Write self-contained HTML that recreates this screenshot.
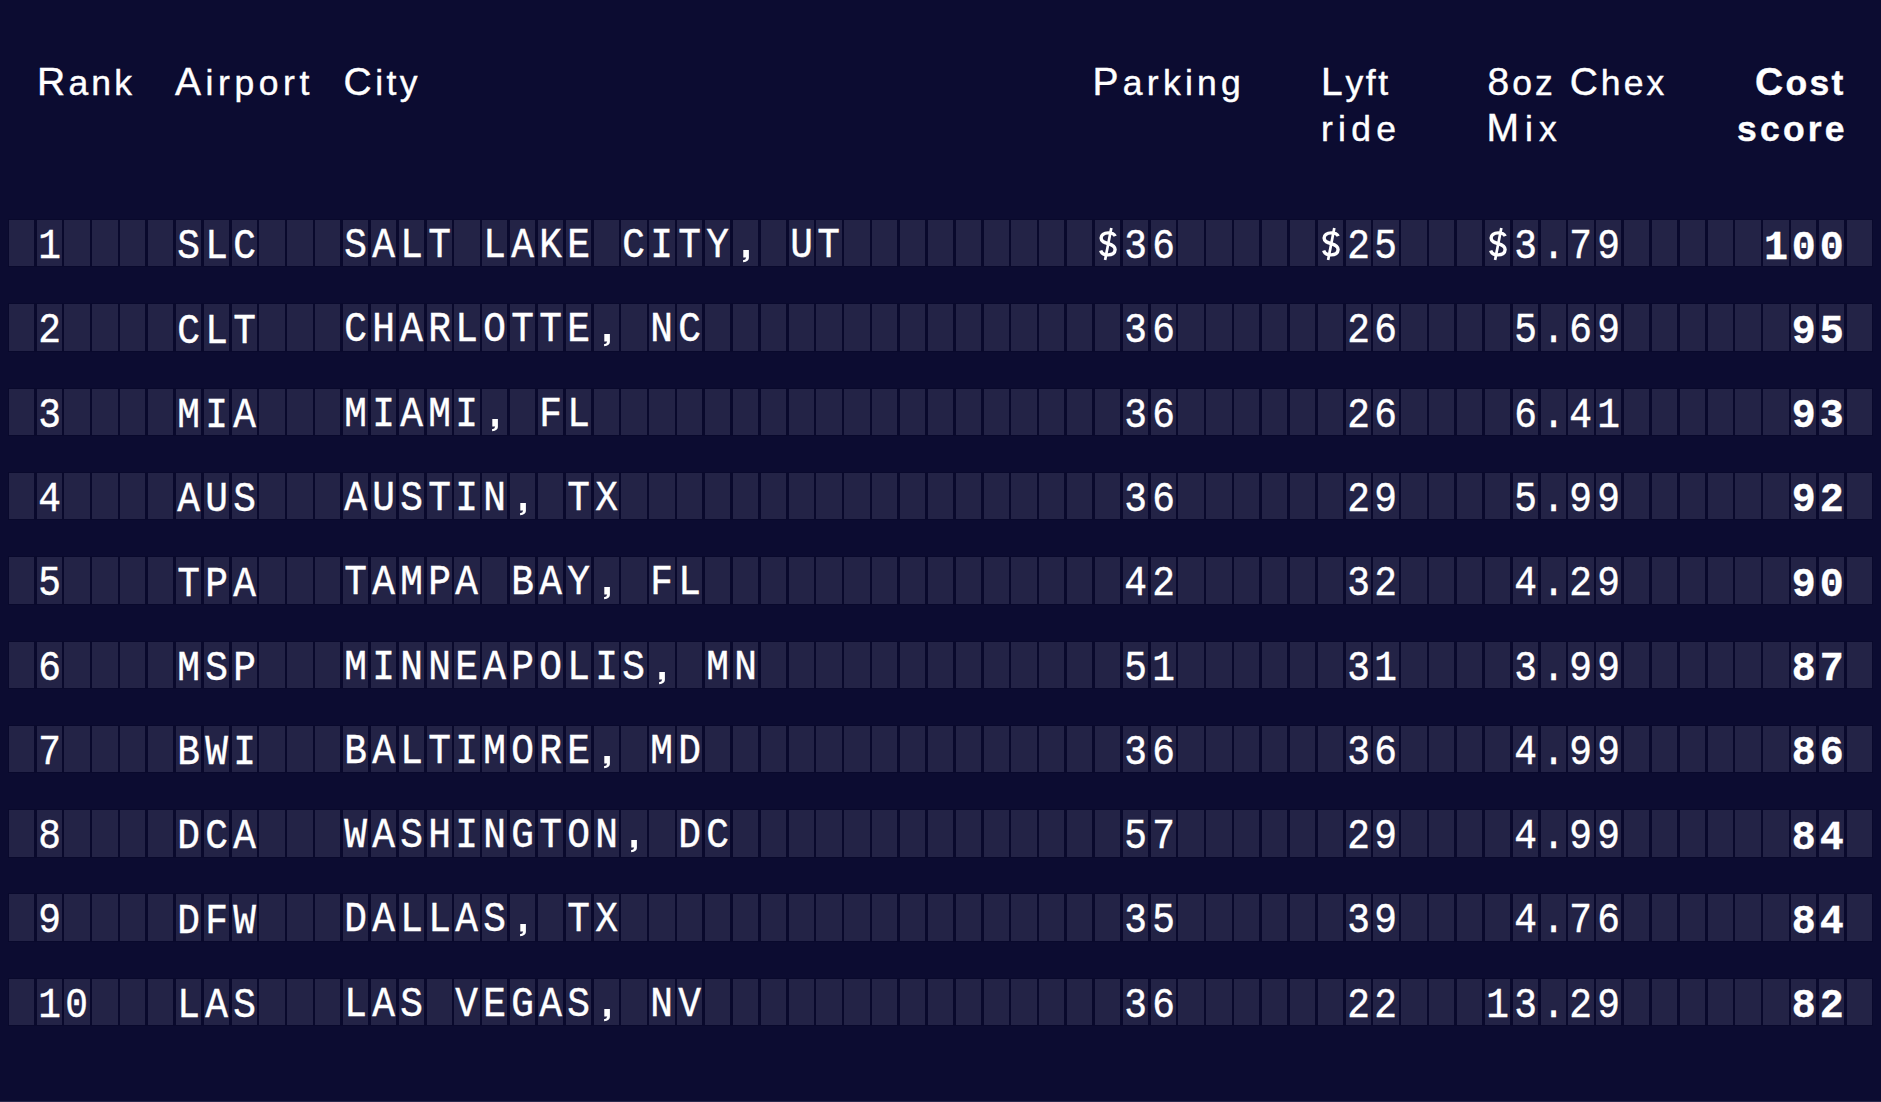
<!DOCTYPE html>
<html><head><meta charset="utf-8"><style>
html,body{margin:0;padding:0;}
body{width:1881px;height:1102px;background:#0c0c31;position:relative;overflow:hidden;}
.h{position:absolute;font-family:"Liberation Sans",sans-serif;color:#fff;-webkit-text-stroke:0.4px #fff;font-size:39px;line-height:47px;white-space:nowrap;}
.b{font-weight:bold;}
.lc{font-size:35.5px;}
.r{position:absolute;left:0;width:1881px;height:46.40px;}
.g{position:absolute;top:-1px;height:calc(100% + 2px);left:7.75px;width:1865.2px;background:#09092c;}
.t{position:absolute;top:0;width:25.30px;height:100%;background:#232346;}
.c{position:absolute;top:3px;transform:scaleX(0.9);-webkit-text-stroke:0.4px #fff;width:25.30px;height:100%;text-align:center;font-family:"Liberation Mono",monospace;font-size:42px;color:#fff;line-height:46.40px;}
.c.k{font-weight:bold;top:5.5px;font-size:40px;transform:none;-webkit-text-stroke:0.3px #fff;}
.c.d{top:4px;}
.cm{position:absolute;top:0;width:25.30px;height:100%;}
</style></head><body>

<div class="h" style="left:37.00px;top:58px;letter-spacing:3.20px;">R<span class="lc">ank</span></div>
<div class="h" style="left:175.00px;top:58px;letter-spacing:4.57px;">A<span class="lc">irport</span></div>
<div class="h" style="left:343.50px;top:58px;letter-spacing:3.47px;">C<span class="lc">ity</span></div>
<div class="h" style="left:1092.50px;top:58px;letter-spacing:4.27px;">P<span class="lc">arking</span></div>
<div class="h" style="left:1321.00px;top:58px;letter-spacing:2.67px;">L<span class="lc">yft</span></div>
<div class="h" style="left:1321.00px;top:104px;letter-spacing:5.27px;"><span class="lc">ride</span></div>
<div class="h" style="left:1487.50px;top:58px;letter-spacing:3.03px;">8<span class="lc">oz</span> C<span class="lc">hex</span></div>
<div class="h" style="left:1486.50px;top:104px;letter-spacing:6.10px;">M<span class="lc">ix</span></div>
<div class="h b" style="left:1755.00px;top:58px;letter-spacing:2.27px;">C<span class="lc">ost</span></div>
<div class="h b" style="left:1737.00px;top:104px;letter-spacing:3.20px;"><span class="lc">score</span></div>
<div class="r" style="top:220.10px">
<div class="g"></div>
<div class="t" style="left:8.75px"></div>
<div class="t" style="left:36.60px"></div>
<div class="t" style="left:64.45px"></div>
<div class="t" style="left:92.30px"></div>
<div class="t" style="left:120.15px"></div>
<div class="t" style="left:148.00px"></div>
<div class="t" style="left:175.85px"></div>
<div class="t" style="left:203.70px"></div>
<div class="t" style="left:231.55px"></div>
<div class="t" style="left:259.40px"></div>
<div class="t" style="left:287.25px"></div>
<div class="t" style="left:315.10px"></div>
<div class="t" style="left:342.95px"></div>
<div class="t" style="left:370.80px"></div>
<div class="t" style="left:398.65px"></div>
<div class="t" style="left:426.50px"></div>
<div class="t" style="left:454.35px"></div>
<div class="t" style="left:482.20px"></div>
<div class="t" style="left:510.05px"></div>
<div class="t" style="left:537.90px"></div>
<div class="t" style="left:565.75px"></div>
<div class="t" style="left:593.60px"></div>
<div class="t" style="left:621.45px"></div>
<div class="t" style="left:649.30px"></div>
<div class="t" style="left:677.15px"></div>
<div class="t" style="left:705.00px"></div>
<div class="t" style="left:732.85px"></div>
<div class="t" style="left:760.70px"></div>
<div class="t" style="left:788.55px"></div>
<div class="t" style="left:816.40px"></div>
<div class="t" style="left:844.25px"></div>
<div class="t" style="left:872.10px"></div>
<div class="t" style="left:899.95px"></div>
<div class="t" style="left:927.80px"></div>
<div class="t" style="left:955.65px"></div>
<div class="t" style="left:983.50px"></div>
<div class="t" style="left:1011.35px"></div>
<div class="t" style="left:1039.20px"></div>
<div class="t" style="left:1067.05px"></div>
<div class="t" style="left:1094.90px"></div>
<div class="t" style="left:1122.75px"></div>
<div class="t" style="left:1150.60px"></div>
<div class="t" style="left:1178.45px"></div>
<div class="t" style="left:1206.30px"></div>
<div class="t" style="left:1234.15px"></div>
<div class="t" style="left:1262.00px"></div>
<div class="t" style="left:1289.85px"></div>
<div class="t" style="left:1317.70px"></div>
<div class="t" style="left:1345.55px"></div>
<div class="t" style="left:1373.40px"></div>
<div class="t" style="left:1401.25px"></div>
<div class="t" style="left:1429.10px"></div>
<div class="t" style="left:1456.95px"></div>
<div class="t" style="left:1484.80px"></div>
<div class="t" style="left:1512.65px"></div>
<div class="t" style="left:1540.50px"></div>
<div class="t" style="left:1568.35px"></div>
<div class="t" style="left:1596.20px"></div>
<div class="t" style="left:1624.05px"></div>
<div class="t" style="left:1651.90px"></div>
<div class="t" style="left:1679.75px"></div>
<div class="t" style="left:1707.60px"></div>
<div class="t" style="left:1735.45px"></div>
<div class="t" style="left:1763.30px"></div>
<div class="t" style="left:1791.15px"></div>
<div class="t" style="left:1819.00px"></div>
<div class="t" style="left:1846.85px"></div>
<div class="c d" style="left:36.60px;">1</div>
<div class="c" style="left:175.85px;top:4.3px;">S</div>
<div class="c" style="left:203.70px;top:4.3px;">L</div>
<div class="c" style="left:231.55px;top:4.3px;">C</div>
<div class="c" style="left:342.95px;">S</div>
<div class="c" style="left:370.80px;">A</div>
<div class="c" style="left:398.65px;">L</div>
<div class="c" style="left:426.50px;">T</div>
<div class="c" style="left:482.20px;">L</div>
<div class="c" style="left:510.05px;">A</div>
<div class="c" style="left:537.90px;">K</div>
<div class="c" style="left:565.75px;">E</div>
<div class="c" style="left:621.45px;">C</div>
<div class="c" style="left:649.30px;">I</div>
<div class="c" style="left:677.15px;">T</div>
<div class="c" style="left:705.00px;">Y</div>
<svg class="cm" style="left:732.85px" viewBox="0 0 25.30 46.40"><path d="M10.3,30.1H15.9V38Q15.9,41.6 10.2,42.2L10,40.3Q12.9,39.8 13.2,37.4H10.3Z" fill="#fff"/></svg>
<div class="c" style="left:788.55px;">U</div>
<div class="c" style="left:816.40px;">T</div>
<svg class="cm" style="left:1094.90px" viewBox="0 0 25.30 46.40"><path d="M20.2,16.2C19.2,13.9 16.6,12.9 13.1,12.9C8.9,12.9 6.1,14.9 6.1,18C6.1,21.6 9.5,22.6 13.1,23.6C17,24.7 20.1,25.9 20.1,29.6C20.1,33 17.1,34.9 13.1,34.9C9.2,34.9 6.6,33.4 5.7,30.4" fill="none" stroke="#fff" stroke-width="3.4"/><path d="M16.3,8.1L10.1,40" stroke="#fff" stroke-width="2.7"/></svg>
<div class="c d" style="left:1122.75px;">3</div>
<div class="c d" style="left:1150.60px;">6</div>
<svg class="cm" style="left:1317.70px" viewBox="0 0 25.30 46.40"><path d="M20.2,16.2C19.2,13.9 16.6,12.9 13.1,12.9C8.9,12.9 6.1,14.9 6.1,18C6.1,21.6 9.5,22.6 13.1,23.6C17,24.7 20.1,25.9 20.1,29.6C20.1,33 17.1,34.9 13.1,34.9C9.2,34.9 6.6,33.4 5.7,30.4" fill="none" stroke="#fff" stroke-width="3.4"/><path d="M16.3,8.1L10.1,40" stroke="#fff" stroke-width="2.7"/></svg>
<div class="c d" style="left:1345.55px;">2</div>
<div class="c d" style="left:1373.40px;">5</div>
<svg class="cm" style="left:1484.80px" viewBox="0 0 25.30 46.40"><path d="M20.2,16.2C19.2,13.9 16.6,12.9 13.1,12.9C8.9,12.9 6.1,14.9 6.1,18C6.1,21.6 9.5,22.6 13.1,23.6C17,24.7 20.1,25.9 20.1,29.6C20.1,33 17.1,34.9 13.1,34.9C9.2,34.9 6.6,33.4 5.7,30.4" fill="none" stroke="#fff" stroke-width="3.4"/><path d="M16.3,8.1L10.1,40" stroke="#fff" stroke-width="2.7"/></svg>
<div class="c d" style="left:1512.65px;">3</div>
<div class="c d" style="left:1540.50px;">.</div>
<div class="c d" style="left:1568.35px;">7</div>
<div class="c d" style="left:1596.20px;">9</div>
<div class="c k" style="left:1763.30px;">1</div>
<div class="c k" style="left:1791.15px;">0</div>
<div class="c k" style="left:1819.00px;">0</div>
</div>
<div class="r" style="top:304.39px">
<div class="g"></div>
<div class="t" style="left:8.75px"></div>
<div class="t" style="left:36.60px"></div>
<div class="t" style="left:64.45px"></div>
<div class="t" style="left:92.30px"></div>
<div class="t" style="left:120.15px"></div>
<div class="t" style="left:148.00px"></div>
<div class="t" style="left:175.85px"></div>
<div class="t" style="left:203.70px"></div>
<div class="t" style="left:231.55px"></div>
<div class="t" style="left:259.40px"></div>
<div class="t" style="left:287.25px"></div>
<div class="t" style="left:315.10px"></div>
<div class="t" style="left:342.95px"></div>
<div class="t" style="left:370.80px"></div>
<div class="t" style="left:398.65px"></div>
<div class="t" style="left:426.50px"></div>
<div class="t" style="left:454.35px"></div>
<div class="t" style="left:482.20px"></div>
<div class="t" style="left:510.05px"></div>
<div class="t" style="left:537.90px"></div>
<div class="t" style="left:565.75px"></div>
<div class="t" style="left:593.60px"></div>
<div class="t" style="left:621.45px"></div>
<div class="t" style="left:649.30px"></div>
<div class="t" style="left:677.15px"></div>
<div class="t" style="left:705.00px"></div>
<div class="t" style="left:732.85px"></div>
<div class="t" style="left:760.70px"></div>
<div class="t" style="left:788.55px"></div>
<div class="t" style="left:816.40px"></div>
<div class="t" style="left:844.25px"></div>
<div class="t" style="left:872.10px"></div>
<div class="t" style="left:899.95px"></div>
<div class="t" style="left:927.80px"></div>
<div class="t" style="left:955.65px"></div>
<div class="t" style="left:983.50px"></div>
<div class="t" style="left:1011.35px"></div>
<div class="t" style="left:1039.20px"></div>
<div class="t" style="left:1067.05px"></div>
<div class="t" style="left:1094.90px"></div>
<div class="t" style="left:1122.75px"></div>
<div class="t" style="left:1150.60px"></div>
<div class="t" style="left:1178.45px"></div>
<div class="t" style="left:1206.30px"></div>
<div class="t" style="left:1234.15px"></div>
<div class="t" style="left:1262.00px"></div>
<div class="t" style="left:1289.85px"></div>
<div class="t" style="left:1317.70px"></div>
<div class="t" style="left:1345.55px"></div>
<div class="t" style="left:1373.40px"></div>
<div class="t" style="left:1401.25px"></div>
<div class="t" style="left:1429.10px"></div>
<div class="t" style="left:1456.95px"></div>
<div class="t" style="left:1484.80px"></div>
<div class="t" style="left:1512.65px"></div>
<div class="t" style="left:1540.50px"></div>
<div class="t" style="left:1568.35px"></div>
<div class="t" style="left:1596.20px"></div>
<div class="t" style="left:1624.05px"></div>
<div class="t" style="left:1651.90px"></div>
<div class="t" style="left:1679.75px"></div>
<div class="t" style="left:1707.60px"></div>
<div class="t" style="left:1735.45px"></div>
<div class="t" style="left:1763.30px"></div>
<div class="t" style="left:1791.15px"></div>
<div class="t" style="left:1819.00px"></div>
<div class="t" style="left:1846.85px"></div>
<div class="c d" style="left:36.60px;">2</div>
<div class="c" style="left:175.85px;top:4.3px;">C</div>
<div class="c" style="left:203.70px;top:4.3px;">L</div>
<div class="c" style="left:231.55px;top:4.3px;">T</div>
<div class="c" style="left:342.95px;">C</div>
<div class="c" style="left:370.80px;">H</div>
<div class="c" style="left:398.65px;">A</div>
<div class="c" style="left:426.50px;">R</div>
<div class="c" style="left:454.35px;">L</div>
<div class="c" style="left:482.20px;">O</div>
<div class="c" style="left:510.05px;">T</div>
<div class="c" style="left:537.90px;">T</div>
<div class="c" style="left:565.75px;">E</div>
<svg class="cm" style="left:593.60px" viewBox="0 0 25.30 46.40"><path d="M10.3,30.1H15.9V38Q15.9,41.6 10.2,42.2L10,40.3Q12.9,39.8 13.2,37.4H10.3Z" fill="#fff"/></svg>
<div class="c" style="left:649.30px;">N</div>
<div class="c" style="left:677.15px;">C</div>
<div class="c d" style="left:1122.75px;">3</div>
<div class="c d" style="left:1150.60px;">6</div>
<div class="c d" style="left:1345.55px;">2</div>
<div class="c d" style="left:1373.40px;">6</div>
<div class="c d" style="left:1512.65px;">5</div>
<div class="c d" style="left:1540.50px;">.</div>
<div class="c d" style="left:1568.35px;">6</div>
<div class="c d" style="left:1596.20px;">9</div>
<div class="c k" style="left:1791.15px;">9</div>
<div class="c k" style="left:1819.00px;">5</div>
</div>
<div class="r" style="top:388.68px">
<div class="g"></div>
<div class="t" style="left:8.75px"></div>
<div class="t" style="left:36.60px"></div>
<div class="t" style="left:64.45px"></div>
<div class="t" style="left:92.30px"></div>
<div class="t" style="left:120.15px"></div>
<div class="t" style="left:148.00px"></div>
<div class="t" style="left:175.85px"></div>
<div class="t" style="left:203.70px"></div>
<div class="t" style="left:231.55px"></div>
<div class="t" style="left:259.40px"></div>
<div class="t" style="left:287.25px"></div>
<div class="t" style="left:315.10px"></div>
<div class="t" style="left:342.95px"></div>
<div class="t" style="left:370.80px"></div>
<div class="t" style="left:398.65px"></div>
<div class="t" style="left:426.50px"></div>
<div class="t" style="left:454.35px"></div>
<div class="t" style="left:482.20px"></div>
<div class="t" style="left:510.05px"></div>
<div class="t" style="left:537.90px"></div>
<div class="t" style="left:565.75px"></div>
<div class="t" style="left:593.60px"></div>
<div class="t" style="left:621.45px"></div>
<div class="t" style="left:649.30px"></div>
<div class="t" style="left:677.15px"></div>
<div class="t" style="left:705.00px"></div>
<div class="t" style="left:732.85px"></div>
<div class="t" style="left:760.70px"></div>
<div class="t" style="left:788.55px"></div>
<div class="t" style="left:816.40px"></div>
<div class="t" style="left:844.25px"></div>
<div class="t" style="left:872.10px"></div>
<div class="t" style="left:899.95px"></div>
<div class="t" style="left:927.80px"></div>
<div class="t" style="left:955.65px"></div>
<div class="t" style="left:983.50px"></div>
<div class="t" style="left:1011.35px"></div>
<div class="t" style="left:1039.20px"></div>
<div class="t" style="left:1067.05px"></div>
<div class="t" style="left:1094.90px"></div>
<div class="t" style="left:1122.75px"></div>
<div class="t" style="left:1150.60px"></div>
<div class="t" style="left:1178.45px"></div>
<div class="t" style="left:1206.30px"></div>
<div class="t" style="left:1234.15px"></div>
<div class="t" style="left:1262.00px"></div>
<div class="t" style="left:1289.85px"></div>
<div class="t" style="left:1317.70px"></div>
<div class="t" style="left:1345.55px"></div>
<div class="t" style="left:1373.40px"></div>
<div class="t" style="left:1401.25px"></div>
<div class="t" style="left:1429.10px"></div>
<div class="t" style="left:1456.95px"></div>
<div class="t" style="left:1484.80px"></div>
<div class="t" style="left:1512.65px"></div>
<div class="t" style="left:1540.50px"></div>
<div class="t" style="left:1568.35px"></div>
<div class="t" style="left:1596.20px"></div>
<div class="t" style="left:1624.05px"></div>
<div class="t" style="left:1651.90px"></div>
<div class="t" style="left:1679.75px"></div>
<div class="t" style="left:1707.60px"></div>
<div class="t" style="left:1735.45px"></div>
<div class="t" style="left:1763.30px"></div>
<div class="t" style="left:1791.15px"></div>
<div class="t" style="left:1819.00px"></div>
<div class="t" style="left:1846.85px"></div>
<div class="c d" style="left:36.60px;">3</div>
<div class="c" style="left:175.85px;top:4.3px;">M</div>
<div class="c" style="left:203.70px;top:4.3px;">I</div>
<div class="c" style="left:231.55px;top:4.3px;">A</div>
<div class="c" style="left:342.95px;">M</div>
<div class="c" style="left:370.80px;">I</div>
<div class="c" style="left:398.65px;">A</div>
<div class="c" style="left:426.50px;">M</div>
<div class="c" style="left:454.35px;">I</div>
<svg class="cm" style="left:482.20px" viewBox="0 0 25.30 46.40"><path d="M10.3,30.1H15.9V38Q15.9,41.6 10.2,42.2L10,40.3Q12.9,39.8 13.2,37.4H10.3Z" fill="#fff"/></svg>
<div class="c" style="left:537.90px;">F</div>
<div class="c" style="left:565.75px;">L</div>
<div class="c d" style="left:1122.75px;">3</div>
<div class="c d" style="left:1150.60px;">6</div>
<div class="c d" style="left:1345.55px;">2</div>
<div class="c d" style="left:1373.40px;">6</div>
<div class="c d" style="left:1512.65px;">6</div>
<div class="c d" style="left:1540.50px;">.</div>
<div class="c d" style="left:1568.35px;">4</div>
<div class="c d" style="left:1596.20px;">1</div>
<div class="c k" style="left:1791.15px;">9</div>
<div class="c k" style="left:1819.00px;">3</div>
</div>
<div class="r" style="top:472.97px">
<div class="g"></div>
<div class="t" style="left:8.75px"></div>
<div class="t" style="left:36.60px"></div>
<div class="t" style="left:64.45px"></div>
<div class="t" style="left:92.30px"></div>
<div class="t" style="left:120.15px"></div>
<div class="t" style="left:148.00px"></div>
<div class="t" style="left:175.85px"></div>
<div class="t" style="left:203.70px"></div>
<div class="t" style="left:231.55px"></div>
<div class="t" style="left:259.40px"></div>
<div class="t" style="left:287.25px"></div>
<div class="t" style="left:315.10px"></div>
<div class="t" style="left:342.95px"></div>
<div class="t" style="left:370.80px"></div>
<div class="t" style="left:398.65px"></div>
<div class="t" style="left:426.50px"></div>
<div class="t" style="left:454.35px"></div>
<div class="t" style="left:482.20px"></div>
<div class="t" style="left:510.05px"></div>
<div class="t" style="left:537.90px"></div>
<div class="t" style="left:565.75px"></div>
<div class="t" style="left:593.60px"></div>
<div class="t" style="left:621.45px"></div>
<div class="t" style="left:649.30px"></div>
<div class="t" style="left:677.15px"></div>
<div class="t" style="left:705.00px"></div>
<div class="t" style="left:732.85px"></div>
<div class="t" style="left:760.70px"></div>
<div class="t" style="left:788.55px"></div>
<div class="t" style="left:816.40px"></div>
<div class="t" style="left:844.25px"></div>
<div class="t" style="left:872.10px"></div>
<div class="t" style="left:899.95px"></div>
<div class="t" style="left:927.80px"></div>
<div class="t" style="left:955.65px"></div>
<div class="t" style="left:983.50px"></div>
<div class="t" style="left:1011.35px"></div>
<div class="t" style="left:1039.20px"></div>
<div class="t" style="left:1067.05px"></div>
<div class="t" style="left:1094.90px"></div>
<div class="t" style="left:1122.75px"></div>
<div class="t" style="left:1150.60px"></div>
<div class="t" style="left:1178.45px"></div>
<div class="t" style="left:1206.30px"></div>
<div class="t" style="left:1234.15px"></div>
<div class="t" style="left:1262.00px"></div>
<div class="t" style="left:1289.85px"></div>
<div class="t" style="left:1317.70px"></div>
<div class="t" style="left:1345.55px"></div>
<div class="t" style="left:1373.40px"></div>
<div class="t" style="left:1401.25px"></div>
<div class="t" style="left:1429.10px"></div>
<div class="t" style="left:1456.95px"></div>
<div class="t" style="left:1484.80px"></div>
<div class="t" style="left:1512.65px"></div>
<div class="t" style="left:1540.50px"></div>
<div class="t" style="left:1568.35px"></div>
<div class="t" style="left:1596.20px"></div>
<div class="t" style="left:1624.05px"></div>
<div class="t" style="left:1651.90px"></div>
<div class="t" style="left:1679.75px"></div>
<div class="t" style="left:1707.60px"></div>
<div class="t" style="left:1735.45px"></div>
<div class="t" style="left:1763.30px"></div>
<div class="t" style="left:1791.15px"></div>
<div class="t" style="left:1819.00px"></div>
<div class="t" style="left:1846.85px"></div>
<div class="c d" style="left:36.60px;">4</div>
<div class="c" style="left:175.85px;top:4.3px;">A</div>
<div class="c" style="left:203.70px;top:4.3px;">U</div>
<div class="c" style="left:231.55px;top:4.3px;">S</div>
<div class="c" style="left:342.95px;">A</div>
<div class="c" style="left:370.80px;">U</div>
<div class="c" style="left:398.65px;">S</div>
<div class="c" style="left:426.50px;">T</div>
<div class="c" style="left:454.35px;">I</div>
<div class="c" style="left:482.20px;">N</div>
<svg class="cm" style="left:510.05px" viewBox="0 0 25.30 46.40"><path d="M10.3,30.1H15.9V38Q15.9,41.6 10.2,42.2L10,40.3Q12.9,39.8 13.2,37.4H10.3Z" fill="#fff"/></svg>
<div class="c" style="left:565.75px;">T</div>
<div class="c" style="left:593.60px;">X</div>
<div class="c d" style="left:1122.75px;">3</div>
<div class="c d" style="left:1150.60px;">6</div>
<div class="c d" style="left:1345.55px;">2</div>
<div class="c d" style="left:1373.40px;">9</div>
<div class="c d" style="left:1512.65px;">5</div>
<div class="c d" style="left:1540.50px;">.</div>
<div class="c d" style="left:1568.35px;">9</div>
<div class="c d" style="left:1596.20px;">9</div>
<div class="c k" style="left:1791.15px;">9</div>
<div class="c k" style="left:1819.00px;">2</div>
</div>
<div class="r" style="top:557.26px">
<div class="g"></div>
<div class="t" style="left:8.75px"></div>
<div class="t" style="left:36.60px"></div>
<div class="t" style="left:64.45px"></div>
<div class="t" style="left:92.30px"></div>
<div class="t" style="left:120.15px"></div>
<div class="t" style="left:148.00px"></div>
<div class="t" style="left:175.85px"></div>
<div class="t" style="left:203.70px"></div>
<div class="t" style="left:231.55px"></div>
<div class="t" style="left:259.40px"></div>
<div class="t" style="left:287.25px"></div>
<div class="t" style="left:315.10px"></div>
<div class="t" style="left:342.95px"></div>
<div class="t" style="left:370.80px"></div>
<div class="t" style="left:398.65px"></div>
<div class="t" style="left:426.50px"></div>
<div class="t" style="left:454.35px"></div>
<div class="t" style="left:482.20px"></div>
<div class="t" style="left:510.05px"></div>
<div class="t" style="left:537.90px"></div>
<div class="t" style="left:565.75px"></div>
<div class="t" style="left:593.60px"></div>
<div class="t" style="left:621.45px"></div>
<div class="t" style="left:649.30px"></div>
<div class="t" style="left:677.15px"></div>
<div class="t" style="left:705.00px"></div>
<div class="t" style="left:732.85px"></div>
<div class="t" style="left:760.70px"></div>
<div class="t" style="left:788.55px"></div>
<div class="t" style="left:816.40px"></div>
<div class="t" style="left:844.25px"></div>
<div class="t" style="left:872.10px"></div>
<div class="t" style="left:899.95px"></div>
<div class="t" style="left:927.80px"></div>
<div class="t" style="left:955.65px"></div>
<div class="t" style="left:983.50px"></div>
<div class="t" style="left:1011.35px"></div>
<div class="t" style="left:1039.20px"></div>
<div class="t" style="left:1067.05px"></div>
<div class="t" style="left:1094.90px"></div>
<div class="t" style="left:1122.75px"></div>
<div class="t" style="left:1150.60px"></div>
<div class="t" style="left:1178.45px"></div>
<div class="t" style="left:1206.30px"></div>
<div class="t" style="left:1234.15px"></div>
<div class="t" style="left:1262.00px"></div>
<div class="t" style="left:1289.85px"></div>
<div class="t" style="left:1317.70px"></div>
<div class="t" style="left:1345.55px"></div>
<div class="t" style="left:1373.40px"></div>
<div class="t" style="left:1401.25px"></div>
<div class="t" style="left:1429.10px"></div>
<div class="t" style="left:1456.95px"></div>
<div class="t" style="left:1484.80px"></div>
<div class="t" style="left:1512.65px"></div>
<div class="t" style="left:1540.50px"></div>
<div class="t" style="left:1568.35px"></div>
<div class="t" style="left:1596.20px"></div>
<div class="t" style="left:1624.05px"></div>
<div class="t" style="left:1651.90px"></div>
<div class="t" style="left:1679.75px"></div>
<div class="t" style="left:1707.60px"></div>
<div class="t" style="left:1735.45px"></div>
<div class="t" style="left:1763.30px"></div>
<div class="t" style="left:1791.15px"></div>
<div class="t" style="left:1819.00px"></div>
<div class="t" style="left:1846.85px"></div>
<div class="c d" style="left:36.60px;">5</div>
<div class="c" style="left:175.85px;top:4.3px;">T</div>
<div class="c" style="left:203.70px;top:4.3px;">P</div>
<div class="c" style="left:231.55px;top:4.3px;">A</div>
<div class="c" style="left:342.95px;">T</div>
<div class="c" style="left:370.80px;">A</div>
<div class="c" style="left:398.65px;">M</div>
<div class="c" style="left:426.50px;">P</div>
<div class="c" style="left:454.35px;">A</div>
<div class="c" style="left:510.05px;">B</div>
<div class="c" style="left:537.90px;">A</div>
<div class="c" style="left:565.75px;">Y</div>
<svg class="cm" style="left:593.60px" viewBox="0 0 25.30 46.40"><path d="M10.3,30.1H15.9V38Q15.9,41.6 10.2,42.2L10,40.3Q12.9,39.8 13.2,37.4H10.3Z" fill="#fff"/></svg>
<div class="c" style="left:649.30px;">F</div>
<div class="c" style="left:677.15px;">L</div>
<div class="c d" style="left:1122.75px;">4</div>
<div class="c d" style="left:1150.60px;">2</div>
<div class="c d" style="left:1345.55px;">3</div>
<div class="c d" style="left:1373.40px;">2</div>
<div class="c d" style="left:1512.65px;">4</div>
<div class="c d" style="left:1540.50px;">.</div>
<div class="c d" style="left:1568.35px;">2</div>
<div class="c d" style="left:1596.20px;">9</div>
<div class="c k" style="left:1791.15px;">9</div>
<div class="c k" style="left:1819.00px;">0</div>
</div>
<div class="r" style="top:641.55px">
<div class="g"></div>
<div class="t" style="left:8.75px"></div>
<div class="t" style="left:36.60px"></div>
<div class="t" style="left:64.45px"></div>
<div class="t" style="left:92.30px"></div>
<div class="t" style="left:120.15px"></div>
<div class="t" style="left:148.00px"></div>
<div class="t" style="left:175.85px"></div>
<div class="t" style="left:203.70px"></div>
<div class="t" style="left:231.55px"></div>
<div class="t" style="left:259.40px"></div>
<div class="t" style="left:287.25px"></div>
<div class="t" style="left:315.10px"></div>
<div class="t" style="left:342.95px"></div>
<div class="t" style="left:370.80px"></div>
<div class="t" style="left:398.65px"></div>
<div class="t" style="left:426.50px"></div>
<div class="t" style="left:454.35px"></div>
<div class="t" style="left:482.20px"></div>
<div class="t" style="left:510.05px"></div>
<div class="t" style="left:537.90px"></div>
<div class="t" style="left:565.75px"></div>
<div class="t" style="left:593.60px"></div>
<div class="t" style="left:621.45px"></div>
<div class="t" style="left:649.30px"></div>
<div class="t" style="left:677.15px"></div>
<div class="t" style="left:705.00px"></div>
<div class="t" style="left:732.85px"></div>
<div class="t" style="left:760.70px"></div>
<div class="t" style="left:788.55px"></div>
<div class="t" style="left:816.40px"></div>
<div class="t" style="left:844.25px"></div>
<div class="t" style="left:872.10px"></div>
<div class="t" style="left:899.95px"></div>
<div class="t" style="left:927.80px"></div>
<div class="t" style="left:955.65px"></div>
<div class="t" style="left:983.50px"></div>
<div class="t" style="left:1011.35px"></div>
<div class="t" style="left:1039.20px"></div>
<div class="t" style="left:1067.05px"></div>
<div class="t" style="left:1094.90px"></div>
<div class="t" style="left:1122.75px"></div>
<div class="t" style="left:1150.60px"></div>
<div class="t" style="left:1178.45px"></div>
<div class="t" style="left:1206.30px"></div>
<div class="t" style="left:1234.15px"></div>
<div class="t" style="left:1262.00px"></div>
<div class="t" style="left:1289.85px"></div>
<div class="t" style="left:1317.70px"></div>
<div class="t" style="left:1345.55px"></div>
<div class="t" style="left:1373.40px"></div>
<div class="t" style="left:1401.25px"></div>
<div class="t" style="left:1429.10px"></div>
<div class="t" style="left:1456.95px"></div>
<div class="t" style="left:1484.80px"></div>
<div class="t" style="left:1512.65px"></div>
<div class="t" style="left:1540.50px"></div>
<div class="t" style="left:1568.35px"></div>
<div class="t" style="left:1596.20px"></div>
<div class="t" style="left:1624.05px"></div>
<div class="t" style="left:1651.90px"></div>
<div class="t" style="left:1679.75px"></div>
<div class="t" style="left:1707.60px"></div>
<div class="t" style="left:1735.45px"></div>
<div class="t" style="left:1763.30px"></div>
<div class="t" style="left:1791.15px"></div>
<div class="t" style="left:1819.00px"></div>
<div class="t" style="left:1846.85px"></div>
<div class="c d" style="left:36.60px;">6</div>
<div class="c" style="left:175.85px;top:4.3px;">M</div>
<div class="c" style="left:203.70px;top:4.3px;">S</div>
<div class="c" style="left:231.55px;top:4.3px;">P</div>
<div class="c" style="left:342.95px;">M</div>
<div class="c" style="left:370.80px;">I</div>
<div class="c" style="left:398.65px;">N</div>
<div class="c" style="left:426.50px;">N</div>
<div class="c" style="left:454.35px;">E</div>
<div class="c" style="left:482.20px;">A</div>
<div class="c" style="left:510.05px;">P</div>
<div class="c" style="left:537.90px;">O</div>
<div class="c" style="left:565.75px;">L</div>
<div class="c" style="left:593.60px;">I</div>
<div class="c" style="left:621.45px;">S</div>
<svg class="cm" style="left:649.30px" viewBox="0 0 25.30 46.40"><path d="M10.3,30.1H15.9V38Q15.9,41.6 10.2,42.2L10,40.3Q12.9,39.8 13.2,37.4H10.3Z" fill="#fff"/></svg>
<div class="c" style="left:705.00px;">M</div>
<div class="c" style="left:732.85px;">N</div>
<div class="c d" style="left:1122.75px;">5</div>
<div class="c d" style="left:1150.60px;">1</div>
<div class="c d" style="left:1345.55px;">3</div>
<div class="c d" style="left:1373.40px;">1</div>
<div class="c d" style="left:1512.65px;">3</div>
<div class="c d" style="left:1540.50px;">.</div>
<div class="c d" style="left:1568.35px;">9</div>
<div class="c d" style="left:1596.20px;">9</div>
<div class="c k" style="left:1791.15px;">8</div>
<div class="c k" style="left:1819.00px;">7</div>
</div>
<div class="r" style="top:725.84px">
<div class="g"></div>
<div class="t" style="left:8.75px"></div>
<div class="t" style="left:36.60px"></div>
<div class="t" style="left:64.45px"></div>
<div class="t" style="left:92.30px"></div>
<div class="t" style="left:120.15px"></div>
<div class="t" style="left:148.00px"></div>
<div class="t" style="left:175.85px"></div>
<div class="t" style="left:203.70px"></div>
<div class="t" style="left:231.55px"></div>
<div class="t" style="left:259.40px"></div>
<div class="t" style="left:287.25px"></div>
<div class="t" style="left:315.10px"></div>
<div class="t" style="left:342.95px"></div>
<div class="t" style="left:370.80px"></div>
<div class="t" style="left:398.65px"></div>
<div class="t" style="left:426.50px"></div>
<div class="t" style="left:454.35px"></div>
<div class="t" style="left:482.20px"></div>
<div class="t" style="left:510.05px"></div>
<div class="t" style="left:537.90px"></div>
<div class="t" style="left:565.75px"></div>
<div class="t" style="left:593.60px"></div>
<div class="t" style="left:621.45px"></div>
<div class="t" style="left:649.30px"></div>
<div class="t" style="left:677.15px"></div>
<div class="t" style="left:705.00px"></div>
<div class="t" style="left:732.85px"></div>
<div class="t" style="left:760.70px"></div>
<div class="t" style="left:788.55px"></div>
<div class="t" style="left:816.40px"></div>
<div class="t" style="left:844.25px"></div>
<div class="t" style="left:872.10px"></div>
<div class="t" style="left:899.95px"></div>
<div class="t" style="left:927.80px"></div>
<div class="t" style="left:955.65px"></div>
<div class="t" style="left:983.50px"></div>
<div class="t" style="left:1011.35px"></div>
<div class="t" style="left:1039.20px"></div>
<div class="t" style="left:1067.05px"></div>
<div class="t" style="left:1094.90px"></div>
<div class="t" style="left:1122.75px"></div>
<div class="t" style="left:1150.60px"></div>
<div class="t" style="left:1178.45px"></div>
<div class="t" style="left:1206.30px"></div>
<div class="t" style="left:1234.15px"></div>
<div class="t" style="left:1262.00px"></div>
<div class="t" style="left:1289.85px"></div>
<div class="t" style="left:1317.70px"></div>
<div class="t" style="left:1345.55px"></div>
<div class="t" style="left:1373.40px"></div>
<div class="t" style="left:1401.25px"></div>
<div class="t" style="left:1429.10px"></div>
<div class="t" style="left:1456.95px"></div>
<div class="t" style="left:1484.80px"></div>
<div class="t" style="left:1512.65px"></div>
<div class="t" style="left:1540.50px"></div>
<div class="t" style="left:1568.35px"></div>
<div class="t" style="left:1596.20px"></div>
<div class="t" style="left:1624.05px"></div>
<div class="t" style="left:1651.90px"></div>
<div class="t" style="left:1679.75px"></div>
<div class="t" style="left:1707.60px"></div>
<div class="t" style="left:1735.45px"></div>
<div class="t" style="left:1763.30px"></div>
<div class="t" style="left:1791.15px"></div>
<div class="t" style="left:1819.00px"></div>
<div class="t" style="left:1846.85px"></div>
<div class="c d" style="left:36.60px;">7</div>
<div class="c" style="left:175.85px;top:4.3px;">B</div>
<div class="c" style="left:203.70px;top:4.3px;">W</div>
<div class="c" style="left:231.55px;top:4.3px;">I</div>
<div class="c" style="left:342.95px;">B</div>
<div class="c" style="left:370.80px;">A</div>
<div class="c" style="left:398.65px;">L</div>
<div class="c" style="left:426.50px;">T</div>
<div class="c" style="left:454.35px;">I</div>
<div class="c" style="left:482.20px;">M</div>
<div class="c" style="left:510.05px;">O</div>
<div class="c" style="left:537.90px;">R</div>
<div class="c" style="left:565.75px;">E</div>
<svg class="cm" style="left:593.60px" viewBox="0 0 25.30 46.40"><path d="M10.3,30.1H15.9V38Q15.9,41.6 10.2,42.2L10,40.3Q12.9,39.8 13.2,37.4H10.3Z" fill="#fff"/></svg>
<div class="c" style="left:649.30px;">M</div>
<div class="c" style="left:677.15px;">D</div>
<div class="c d" style="left:1122.75px;">3</div>
<div class="c d" style="left:1150.60px;">6</div>
<div class="c d" style="left:1345.55px;">3</div>
<div class="c d" style="left:1373.40px;">6</div>
<div class="c d" style="left:1512.65px;">4</div>
<div class="c d" style="left:1540.50px;">.</div>
<div class="c d" style="left:1568.35px;">9</div>
<div class="c d" style="left:1596.20px;">9</div>
<div class="c k" style="left:1791.15px;">8</div>
<div class="c k" style="left:1819.00px;">6</div>
</div>
<div class="r" style="top:810.13px">
<div class="g"></div>
<div class="t" style="left:8.75px"></div>
<div class="t" style="left:36.60px"></div>
<div class="t" style="left:64.45px"></div>
<div class="t" style="left:92.30px"></div>
<div class="t" style="left:120.15px"></div>
<div class="t" style="left:148.00px"></div>
<div class="t" style="left:175.85px"></div>
<div class="t" style="left:203.70px"></div>
<div class="t" style="left:231.55px"></div>
<div class="t" style="left:259.40px"></div>
<div class="t" style="left:287.25px"></div>
<div class="t" style="left:315.10px"></div>
<div class="t" style="left:342.95px"></div>
<div class="t" style="left:370.80px"></div>
<div class="t" style="left:398.65px"></div>
<div class="t" style="left:426.50px"></div>
<div class="t" style="left:454.35px"></div>
<div class="t" style="left:482.20px"></div>
<div class="t" style="left:510.05px"></div>
<div class="t" style="left:537.90px"></div>
<div class="t" style="left:565.75px"></div>
<div class="t" style="left:593.60px"></div>
<div class="t" style="left:621.45px"></div>
<div class="t" style="left:649.30px"></div>
<div class="t" style="left:677.15px"></div>
<div class="t" style="left:705.00px"></div>
<div class="t" style="left:732.85px"></div>
<div class="t" style="left:760.70px"></div>
<div class="t" style="left:788.55px"></div>
<div class="t" style="left:816.40px"></div>
<div class="t" style="left:844.25px"></div>
<div class="t" style="left:872.10px"></div>
<div class="t" style="left:899.95px"></div>
<div class="t" style="left:927.80px"></div>
<div class="t" style="left:955.65px"></div>
<div class="t" style="left:983.50px"></div>
<div class="t" style="left:1011.35px"></div>
<div class="t" style="left:1039.20px"></div>
<div class="t" style="left:1067.05px"></div>
<div class="t" style="left:1094.90px"></div>
<div class="t" style="left:1122.75px"></div>
<div class="t" style="left:1150.60px"></div>
<div class="t" style="left:1178.45px"></div>
<div class="t" style="left:1206.30px"></div>
<div class="t" style="left:1234.15px"></div>
<div class="t" style="left:1262.00px"></div>
<div class="t" style="left:1289.85px"></div>
<div class="t" style="left:1317.70px"></div>
<div class="t" style="left:1345.55px"></div>
<div class="t" style="left:1373.40px"></div>
<div class="t" style="left:1401.25px"></div>
<div class="t" style="left:1429.10px"></div>
<div class="t" style="left:1456.95px"></div>
<div class="t" style="left:1484.80px"></div>
<div class="t" style="left:1512.65px"></div>
<div class="t" style="left:1540.50px"></div>
<div class="t" style="left:1568.35px"></div>
<div class="t" style="left:1596.20px"></div>
<div class="t" style="left:1624.05px"></div>
<div class="t" style="left:1651.90px"></div>
<div class="t" style="left:1679.75px"></div>
<div class="t" style="left:1707.60px"></div>
<div class="t" style="left:1735.45px"></div>
<div class="t" style="left:1763.30px"></div>
<div class="t" style="left:1791.15px"></div>
<div class="t" style="left:1819.00px"></div>
<div class="t" style="left:1846.85px"></div>
<div class="c d" style="left:36.60px;">8</div>
<div class="c" style="left:175.85px;top:4.3px;">D</div>
<div class="c" style="left:203.70px;top:4.3px;">C</div>
<div class="c" style="left:231.55px;top:4.3px;">A</div>
<div class="c" style="left:342.95px;">W</div>
<div class="c" style="left:370.80px;">A</div>
<div class="c" style="left:398.65px;">S</div>
<div class="c" style="left:426.50px;">H</div>
<div class="c" style="left:454.35px;">I</div>
<div class="c" style="left:482.20px;">N</div>
<div class="c" style="left:510.05px;">G</div>
<div class="c" style="left:537.90px;">T</div>
<div class="c" style="left:565.75px;">O</div>
<div class="c" style="left:593.60px;">N</div>
<svg class="cm" style="left:621.45px" viewBox="0 0 25.30 46.40"><path d="M10.3,30.1H15.9V38Q15.9,41.6 10.2,42.2L10,40.3Q12.9,39.8 13.2,37.4H10.3Z" fill="#fff"/></svg>
<div class="c" style="left:677.15px;">D</div>
<div class="c" style="left:705.00px;">C</div>
<div class="c d" style="left:1122.75px;">5</div>
<div class="c d" style="left:1150.60px;">7</div>
<div class="c d" style="left:1345.55px;">2</div>
<div class="c d" style="left:1373.40px;">9</div>
<div class="c d" style="left:1512.65px;">4</div>
<div class="c d" style="left:1540.50px;">.</div>
<div class="c d" style="left:1568.35px;">9</div>
<div class="c d" style="left:1596.20px;">9</div>
<div class="c k" style="left:1791.15px;">8</div>
<div class="c k" style="left:1819.00px;">4</div>
</div>
<div class="r" style="top:894.42px">
<div class="g"></div>
<div class="t" style="left:8.75px"></div>
<div class="t" style="left:36.60px"></div>
<div class="t" style="left:64.45px"></div>
<div class="t" style="left:92.30px"></div>
<div class="t" style="left:120.15px"></div>
<div class="t" style="left:148.00px"></div>
<div class="t" style="left:175.85px"></div>
<div class="t" style="left:203.70px"></div>
<div class="t" style="left:231.55px"></div>
<div class="t" style="left:259.40px"></div>
<div class="t" style="left:287.25px"></div>
<div class="t" style="left:315.10px"></div>
<div class="t" style="left:342.95px"></div>
<div class="t" style="left:370.80px"></div>
<div class="t" style="left:398.65px"></div>
<div class="t" style="left:426.50px"></div>
<div class="t" style="left:454.35px"></div>
<div class="t" style="left:482.20px"></div>
<div class="t" style="left:510.05px"></div>
<div class="t" style="left:537.90px"></div>
<div class="t" style="left:565.75px"></div>
<div class="t" style="left:593.60px"></div>
<div class="t" style="left:621.45px"></div>
<div class="t" style="left:649.30px"></div>
<div class="t" style="left:677.15px"></div>
<div class="t" style="left:705.00px"></div>
<div class="t" style="left:732.85px"></div>
<div class="t" style="left:760.70px"></div>
<div class="t" style="left:788.55px"></div>
<div class="t" style="left:816.40px"></div>
<div class="t" style="left:844.25px"></div>
<div class="t" style="left:872.10px"></div>
<div class="t" style="left:899.95px"></div>
<div class="t" style="left:927.80px"></div>
<div class="t" style="left:955.65px"></div>
<div class="t" style="left:983.50px"></div>
<div class="t" style="left:1011.35px"></div>
<div class="t" style="left:1039.20px"></div>
<div class="t" style="left:1067.05px"></div>
<div class="t" style="left:1094.90px"></div>
<div class="t" style="left:1122.75px"></div>
<div class="t" style="left:1150.60px"></div>
<div class="t" style="left:1178.45px"></div>
<div class="t" style="left:1206.30px"></div>
<div class="t" style="left:1234.15px"></div>
<div class="t" style="left:1262.00px"></div>
<div class="t" style="left:1289.85px"></div>
<div class="t" style="left:1317.70px"></div>
<div class="t" style="left:1345.55px"></div>
<div class="t" style="left:1373.40px"></div>
<div class="t" style="left:1401.25px"></div>
<div class="t" style="left:1429.10px"></div>
<div class="t" style="left:1456.95px"></div>
<div class="t" style="left:1484.80px"></div>
<div class="t" style="left:1512.65px"></div>
<div class="t" style="left:1540.50px"></div>
<div class="t" style="left:1568.35px"></div>
<div class="t" style="left:1596.20px"></div>
<div class="t" style="left:1624.05px"></div>
<div class="t" style="left:1651.90px"></div>
<div class="t" style="left:1679.75px"></div>
<div class="t" style="left:1707.60px"></div>
<div class="t" style="left:1735.45px"></div>
<div class="t" style="left:1763.30px"></div>
<div class="t" style="left:1791.15px"></div>
<div class="t" style="left:1819.00px"></div>
<div class="t" style="left:1846.85px"></div>
<div class="c d" style="left:36.60px;">9</div>
<div class="c" style="left:175.85px;top:4.3px;">D</div>
<div class="c" style="left:203.70px;top:4.3px;">F</div>
<div class="c" style="left:231.55px;top:4.3px;">W</div>
<div class="c" style="left:342.95px;">D</div>
<div class="c" style="left:370.80px;">A</div>
<div class="c" style="left:398.65px;">L</div>
<div class="c" style="left:426.50px;">L</div>
<div class="c" style="left:454.35px;">A</div>
<div class="c" style="left:482.20px;">S</div>
<svg class="cm" style="left:510.05px" viewBox="0 0 25.30 46.40"><path d="M10.3,30.1H15.9V38Q15.9,41.6 10.2,42.2L10,40.3Q12.9,39.8 13.2,37.4H10.3Z" fill="#fff"/></svg>
<div class="c" style="left:565.75px;">T</div>
<div class="c" style="left:593.60px;">X</div>
<div class="c d" style="left:1122.75px;">3</div>
<div class="c d" style="left:1150.60px;">5</div>
<div class="c d" style="left:1345.55px;">3</div>
<div class="c d" style="left:1373.40px;">9</div>
<div class="c d" style="left:1512.65px;">4</div>
<div class="c d" style="left:1540.50px;">.</div>
<div class="c d" style="left:1568.35px;">7</div>
<div class="c d" style="left:1596.20px;">6</div>
<div class="c k" style="left:1791.15px;">8</div>
<div class="c k" style="left:1819.00px;">4</div>
</div>
<div class="r" style="top:978.71px">
<div class="g"></div>
<div class="t" style="left:8.75px"></div>
<div class="t" style="left:36.60px"></div>
<div class="t" style="left:64.45px"></div>
<div class="t" style="left:92.30px"></div>
<div class="t" style="left:120.15px"></div>
<div class="t" style="left:148.00px"></div>
<div class="t" style="left:175.85px"></div>
<div class="t" style="left:203.70px"></div>
<div class="t" style="left:231.55px"></div>
<div class="t" style="left:259.40px"></div>
<div class="t" style="left:287.25px"></div>
<div class="t" style="left:315.10px"></div>
<div class="t" style="left:342.95px"></div>
<div class="t" style="left:370.80px"></div>
<div class="t" style="left:398.65px"></div>
<div class="t" style="left:426.50px"></div>
<div class="t" style="left:454.35px"></div>
<div class="t" style="left:482.20px"></div>
<div class="t" style="left:510.05px"></div>
<div class="t" style="left:537.90px"></div>
<div class="t" style="left:565.75px"></div>
<div class="t" style="left:593.60px"></div>
<div class="t" style="left:621.45px"></div>
<div class="t" style="left:649.30px"></div>
<div class="t" style="left:677.15px"></div>
<div class="t" style="left:705.00px"></div>
<div class="t" style="left:732.85px"></div>
<div class="t" style="left:760.70px"></div>
<div class="t" style="left:788.55px"></div>
<div class="t" style="left:816.40px"></div>
<div class="t" style="left:844.25px"></div>
<div class="t" style="left:872.10px"></div>
<div class="t" style="left:899.95px"></div>
<div class="t" style="left:927.80px"></div>
<div class="t" style="left:955.65px"></div>
<div class="t" style="left:983.50px"></div>
<div class="t" style="left:1011.35px"></div>
<div class="t" style="left:1039.20px"></div>
<div class="t" style="left:1067.05px"></div>
<div class="t" style="left:1094.90px"></div>
<div class="t" style="left:1122.75px"></div>
<div class="t" style="left:1150.60px"></div>
<div class="t" style="left:1178.45px"></div>
<div class="t" style="left:1206.30px"></div>
<div class="t" style="left:1234.15px"></div>
<div class="t" style="left:1262.00px"></div>
<div class="t" style="left:1289.85px"></div>
<div class="t" style="left:1317.70px"></div>
<div class="t" style="left:1345.55px"></div>
<div class="t" style="left:1373.40px"></div>
<div class="t" style="left:1401.25px"></div>
<div class="t" style="left:1429.10px"></div>
<div class="t" style="left:1456.95px"></div>
<div class="t" style="left:1484.80px"></div>
<div class="t" style="left:1512.65px"></div>
<div class="t" style="left:1540.50px"></div>
<div class="t" style="left:1568.35px"></div>
<div class="t" style="left:1596.20px"></div>
<div class="t" style="left:1624.05px"></div>
<div class="t" style="left:1651.90px"></div>
<div class="t" style="left:1679.75px"></div>
<div class="t" style="left:1707.60px"></div>
<div class="t" style="left:1735.45px"></div>
<div class="t" style="left:1763.30px"></div>
<div class="t" style="left:1791.15px"></div>
<div class="t" style="left:1819.00px"></div>
<div class="t" style="left:1846.85px"></div>
<div class="c d" style="left:36.60px;">1</div>
<div class="c d" style="left:64.45px;">0</div>
<div class="c" style="left:175.85px;top:4.3px;">L</div>
<div class="c" style="left:203.70px;top:4.3px;">A</div>
<div class="c" style="left:231.55px;top:4.3px;">S</div>
<div class="c" style="left:342.95px;">L</div>
<div class="c" style="left:370.80px;">A</div>
<div class="c" style="left:398.65px;">S</div>
<div class="c" style="left:454.35px;">V</div>
<div class="c" style="left:482.20px;">E</div>
<div class="c" style="left:510.05px;">G</div>
<div class="c" style="left:537.90px;">A</div>
<div class="c" style="left:565.75px;">S</div>
<svg class="cm" style="left:593.60px" viewBox="0 0 25.30 46.40"><path d="M10.3,30.1H15.9V38Q15.9,41.6 10.2,42.2L10,40.3Q12.9,39.8 13.2,37.4H10.3Z" fill="#fff"/></svg>
<div class="c" style="left:649.30px;">N</div>
<div class="c" style="left:677.15px;">V</div>
<div class="c d" style="left:1122.75px;">3</div>
<div class="c d" style="left:1150.60px;">6</div>
<div class="c d" style="left:1345.55px;">2</div>
<div class="c d" style="left:1373.40px;">2</div>
<div class="c d" style="left:1484.80px;">1</div>
<div class="c d" style="left:1512.65px;">3</div>
<div class="c d" style="left:1540.50px;">.</div>
<div class="c d" style="left:1568.35px;">2</div>
<div class="c d" style="left:1596.20px;">9</div>
<div class="c k" style="left:1791.15px;">8</div>
<div class="c k" style="left:1819.00px;">2</div>
</div>
<div style="position:absolute;left:0;top:1101px;width:1881px;height:1px;background:#2b2a4e"></div>
</body></html>
